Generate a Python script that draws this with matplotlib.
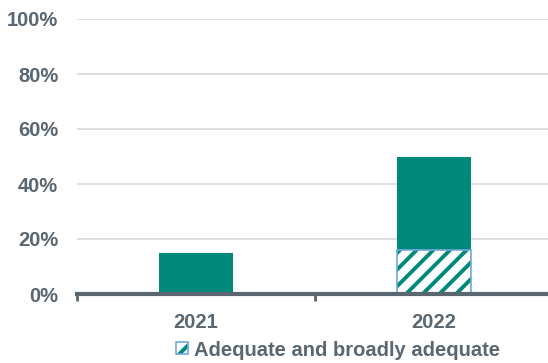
import numpy as np
import matplotlib.pyplot as plt
from matplotlib.ticker import FuncFormatter
from matplotlib.legend_handler import HandlerTuple

plt.rcParams['font.family'] = ['Liberation Sans', 'DejaVu Sans']
plt.rcParams['hatch.linewidth'] = 2.8

years = ['2021', '2022']
adequate = [0.0, 0.16]
other = [0.15, 0.34]
yticks = [0, 0.2, 0.4, 0.6, 0.8, 1.0]

teal = '#00897b'
grey = '#5a6670'
blue = '#6fa8dc'

fig = plt.figure(figsize=(5.48, 3.63), dpi=100)
ax = fig.add_axes([77 / 548, 1 - 294 / 363, 476 / 548, 275 / 363])

x = np.arange(len(years))
w = 0.315
# hatch takes the edge colour, so the blue outline is a second unfilled bar
hatched = ax.bar(x, adequate, w, color='white', edgecolor=teal, linewidth=0,
                 hatch='//', zorder=3)
outline = ax.bar(x, adequate, w, fill=False, edgecolor=blue, linewidth=1.2, zorder=3.5)
ax.bar(x, other, w, bottom=adequate, color=teal, linewidth=0, zorder=3)

ax.set_xlim(-0.5, 1.5)
ax.set_ylim(0, 1.0)
ax.set_yticks(yticks)
ax.yaxis.set_major_formatter(FuncFormatter(lambda v, p: f'{v * 100:.0f}%'))
ax.set_xticks(x)
ax.set_xticklabels(years)
ax.set_xticks([-0.5, 0.5, 1.5], minor=True)

ax.grid(axis='y', color='#d9d9d9', linewidth=1.2, zorder=0)
for s in ['top', 'right', 'left']:
    ax.spines[s].set_visible(False)
ax.spines['bottom'].set_color(grey)
ax.spines['bottom'].set_linewidth(3)
ax.spines['bottom'].set_zorder(4)

ax.tick_params(axis='y', length=0, pad=13.5, labelsize=14.5, labelcolor=grey)
ax.tick_params(axis='x', which='major', length=0, pad=14, labelsize=14.5, labelcolor=grey)
ax.tick_params(axis='x', which='minor', length=5, width=2, color=grey, direction='out')
for lab in ax.get_xticklabels() + ax.get_yticklabels():
    lab.set_fontweight('bold')

fig.legend([(hatched[1], outline[1])], ['Adequate and broadly adequate'],
           handler_map={tuple: HandlerTuple(ndivide=1, pad=0)},
           loc='center', bbox_to_anchor=(338 / 548, 1 - 350 / 363), frameon=False,
           handlelength=0.55, handleheight=0.55, handletextpad=0.3,
           prop={'weight': 'bold', 'size': 14.5}, labelcolor=grey)

fig.savefig('out.png', dpi=100)
